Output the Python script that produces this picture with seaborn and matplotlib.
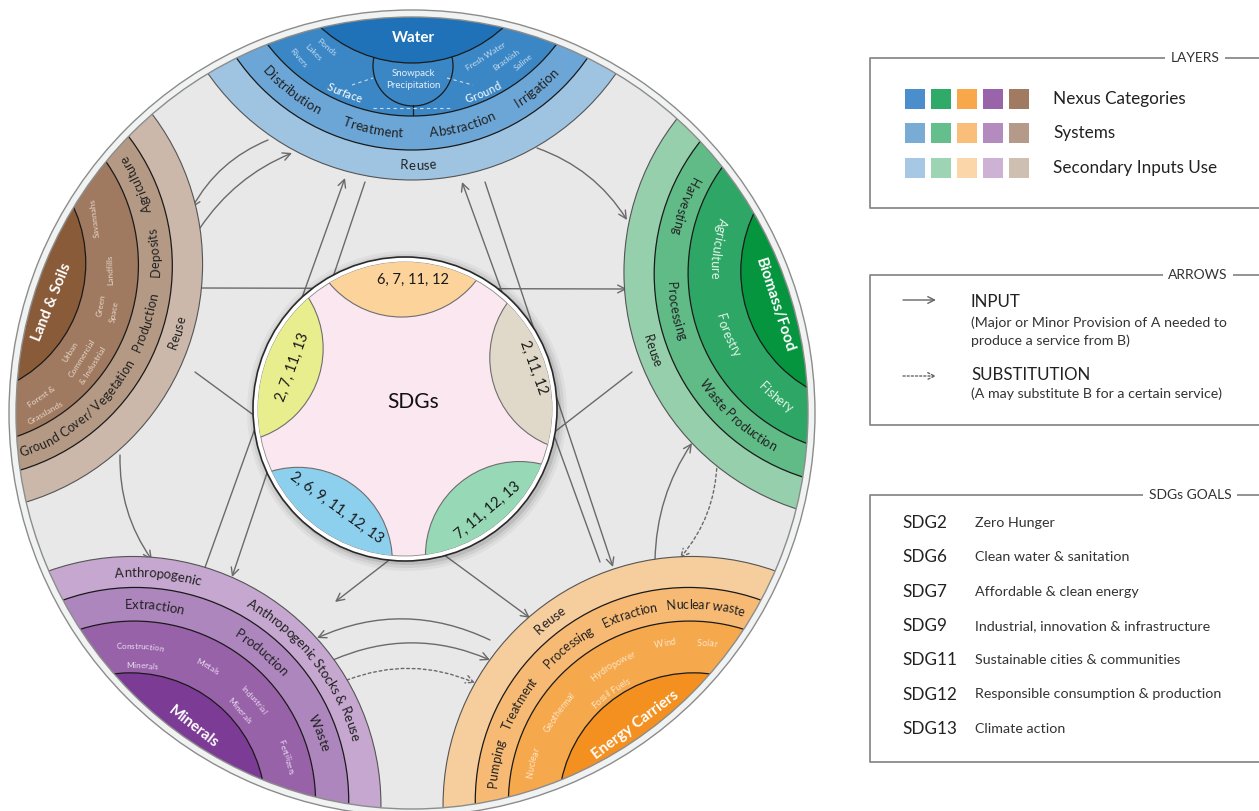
import numpy as np
import matplotlib
matplotlib.use("Agg")
import matplotlib.pyplot as plt
from matplotlib.patches import Circle, Rectangle, Wedge, FancyArrowPatch
from matplotlib.path import Path
from matplotlib.font_manager import FontProperties
import seaborn as sns

sns.set_theme(style="white")
plt.rcParams['font.family'] = ['Lato', 'DejaVu Sans']

# ---- data ----
categories = ["Water", "Biomass/Food", "Energy Carriers", "Minerals", "Land & Soils"]
axis_angle = [90, 17, -54.5, -125.5, 162]
text_outward = [False, False, True, True, False]

core_colors = ["#1f72b8", "#05953f", "#f39020", "#7c3b95", "#8a5b38"]
system_colors = ["#3b87c5", "#2ea766", "#f5a84c", "#9862a9", "#9f7a61"]
process_colors = ["#6ca6d6", "#60bb87", "#f7ba74", "#ae86be", "#b49985"]
reuse_colors = ["#9fc4e2", "#95cfab", "#f6cd9d", "#c5a7d0", "#ccb8aa"]

layer_names = ["Nexus Categories", "Systems", "Secondary Inputs Use"]
legend_colors = [
    ["#4a8fcb", "#2faa69", "#f8a84a", "#9a64ab", "#a07b62"],
    ["#78acd5", "#65bf8d", "#f9be79", "#b48bbf", "#b59a89"],
    ["#a7c8e5", "#9dd4b4", "#fad6a8", "#cdb2d6", "#cfbfb3"],
]

petal_labels = ["6, 7, 11, 12", "2, 11, 12", "7, 11, 12, 13", "2, 6, 9, 11, 12, 13", "2, 7, 11, 13"]
petal_colors = ["#fdd39c", "#e0d9c9", "#97d8b6", "#8dd0ee", "#e8ee8d"]
petal_angle = [91, 16, -52, -125, 161]

sdg_codes = ["SDG2", "SDG6", "SDG7", "SDG9", "SDG11", "SDG12", "SDG13"]
sdg_names = ["Zero Hunger", "Clean water & sanitation", "Affordable & clean energy",
             "Industrial, innovation & infrastructure", "Sustainable cities & communities",
             "Responsible consumption & production", "Climate action"]

# ring boundaries: (inner distance from centre, half-angle at rim), outer -> inner
rings = [(233, 31.0), (263, 26.3), (297, 21.4), (350, 13.3)]

dark = "#222222"
lw_ = "#c2daf0"
ls_ = "#e6d6c8"
# curved labels: (text, sector, band, x, y, size, colour, weight, centred in band)
curved_labels = [
    ("Surface", 0, 2, 344, 93, 8, "white", "normal", False),
    ("Ground", 0, 2, 483, 93, 8, "white", "normal", False),
    ("Distribution", 0, 1, 290, 92, 9.5, dark, "normal", True),
    ("Treatment", 0, 1, 373, 128, 9.5, dark, "normal", True),
    ("Abstraction", 0, 1, 462, 125, 9.5, dark, "normal", True),
    ("Irrigation", 0, 1, 538, 90, 9.5, dark, "normal", True),
    ("Reuse", 0, 0, 418, 167, 9.5, dark, "normal", True),

    ("Agriculture", 4, 1, 130, 187, 9, dark, "normal", True),
    ("Deposits", 4, 1, 152, 253, 9, dark, "normal", True),
    ("Production", 4, 1, 143, 322, 9, dark, "normal", True),
    ("Ground Cover/ Vegetation", 4, 1, 82, 415, 9, dark, "normal", True),
    ("Reuse", 4, 0, 177, 333, 9, dark, "normal", True),

    ("Agriculture", 1, 2, 717, 248, 9, "#e2f3e8", "normal", True),
    ("Forestry", 1, 2, 728, 335, 9, "#e2f3e8", "normal", True),
    ("Fishery", 1, 2, 775, 398, 9, "#e2f3e8", "normal", True),
    ("Harvesting", 1, 1, 678, 203, 9, dark, "normal", True),
    ("Processing", 1, 1, 678, 310, 9, dark, "normal", True),
    ("Waste Production", 1, 1, 740, 413, 9, dark, "normal", True),
    ("Reuse", 1, 0, 653, 350, 9, dark, "normal", True),

    ("Construction", 3, 2, 140, 646, 6, "#eadff0", "normal", False),
    ("Minerals", 3, 2, 142, 665, 6, "#eadff0", "normal", False),
    ("Metals", 3, 2, 208, 666, 6, "#eadff0", "normal", False),
    ("Industrial", 3, 2, 254, 699, 6, "#eadff0", "normal", False),
    ("Minerals", 3, 2, 240, 710, 6, "#eadff0", "normal", False),
    ("Fertilizers", 3, 2, 287, 757, 6, "#eadff0", "normal", False),
    ("Extraction", 3, 1, 153, 617, 9.5, dark, "normal", True),
    ("Production", 3, 1, 255, 660, 9.5, dark, "normal", True),
    ("Waste", 3, 1, 313, 735, 9.5, dark, "normal", True),
    ("Anthropogenic", 3, 0, 157, 585, 9.5, dark, "normal", True),
    ("Anthropogenic Stocks & Reuse", 3, 0, 297, 675, 9.5, dark, "normal", True),

    ("Nuclear", 2, 2, 532, 763, 6.5, "#fde7cb", "normal", False),
    ("Geothermal", 2, 2, 558, 712, 6.5, "#fde7cb", "normal", False),
    ("Fossil Fuels", 2, 2, 610, 692, 6.5, "#fde7cb", "normal", False),
    ("Hydropower", 2, 2, 612, 665, 6.5, "#fde7cb", "normal", False),
    ("Wind", 2, 2, 665, 643, 6.5, "#fde7cb", "normal", False),
    ("Solar", 2, 2, 707, 643, 6.5, "#fde7cb", "normal", False),
    ("Pumping", 2, 1, 502, 765, 9, dark, "normal", True),
    ("Treatment", 2, 1, 525, 707, 9, dark, "normal", True),
    ("Processing", 2, 1, 573, 653, 9, dark, "normal", True),
    ("Extraction", 2, 1, 632, 622, 9, dark, "normal", True),
    ("Nuclear waste", 2, 1, 705, 613, 9, dark, "normal", True),
    ("Reuse", 2, 0, 552, 623, 9.5, dark, "normal", True),
]

# straight labels: (text, x, y, rotation, size, colour, weight)
straight_labels = [
    ("Water", 413, 38, 0, 11, "white", "bold"),
    ("Land & Soils", 52, 302, 68, 11, "white", "bold"),
    ("Biomass/Food", 775, 305, -72, 11, "white", "bold"),
    ("Minerals", 193, 727, -38, 11, "white", "bold"),
    ("Energy Carriers", 635, 725, 37, 11, "white", "bold"),
    ("Ponds", 327, 47, -40, 6, lw_, "normal"),
    ("Lakes", 313, 53, -45, 6, lw_, "normal"),
    ("Rivers", 298, 58, -50, 6, lw_, "normal"),
    ("Snowpack", 413, 73, 0, 7, "#e6f0f9", "normal"),
    ("Precipitation", 413, 85, 0, 7, "#e6f0f9", "normal"),
    ("Fresh Water", 486, 56, 33, 6, lw_, "normal"),
    ("Brackish", 506, 60, 36, 6, lw_, "normal"),
    ("Saline", 523, 62, 40, 6, lw_, "normal"),
    ("Savannahs", 95, 218, 97, 6, ls_, "normal"),
    ("Landfills", 110, 270, 92, 6, ls_, "normal"),
    ("Green", 101, 305, 80, 6, ls_, "normal"),
    ("Space", 114, 312, 80, 6, ls_, "normal"),
    ("Urban", 70, 352, 58, 6, ls_, "normal"),
    ("Commercial", 82, 358, 58, 6, ls_, "normal"),
    ("& Industrial", 93, 366, 58, 6, ls_, "normal"),
    ("Forest &", 42, 397, 35, 6, ls_, "normal"),
    ("Grasslands", 46, 413, 30, 6, ls_, "normal"),
]

# arrows: (x0, y0, x1, y1, bend, dashed)
arrows = [
    (268, 140, 192, 208, 18, False),
    (200, 228, 292, 153, -18, False),
    (537, 148, 627, 220, -20, False),
    (200, 288, 627, 289, 0, False),
    (120, 455, 152, 560, 18, False),
    (203, 573, 345, 178, 0, False),
    (365, 182, 232, 577, 0, False),
    (600, 562, 462, 182, 0, False),
    (485, 182, 613, 567, 0, False),
    (490, 640, 317, 638, 40, False),
    (333, 660, 490, 660, -34, False),
    (347, 680, 475, 683, -26, True),
    (655, 560, 692, 443, -18, False),
    (717, 463, 680, 558, -18, True),
    (195, 372, 530, 618, 0, False),
    (632, 372, 335, 602, 0, False),
]

# ---- figure ----
fig = plt.figure(figsize=(12.59, 8.11), dpi=100)
ax = fig.add_axes([0, 0, 1, 1])
ax.set_xlim(0, 1259)
ax.set_ylim(811, 0)
ax.set_aspect('equal')
ax.axis('off')
renderer = fig.canvas.get_renderer()

CX, CY, R = 412, 413, 396

big = Circle((CX, CY), R, facecolor="#e8e8e8", edgecolor="none", zorder=1)
ax.add_patch(big)


def ring_circle(theta, a, phi, cx=CX, cy=CY, rr=R):
    phi = np.radians(phi)
    d = (rr ** 2 - a ** 2) / (2 * (rr * np.cos(phi) - a))
    t = np.radians(theta)
    return (cx + d * np.cos(t), cy - d * np.sin(t)), d - a


circ = {}
layer_cols = [reuse_colors, process_colors, system_colors, core_colors]
for k, ang in enumerate(axis_angle):
    for j, (a, phi) in enumerate(rings):
        c, r = ring_circle(ang, a, phi)
        circ[(k, j)] = (np.array(c), r)
        ec = "#555555" if j == 0 else "#1a1a1a"
        p = Circle(c, r, facecolor=layer_cols[j][k], edgecolor=ec,
                   lw=0.8 if j == 0 else 0.9, zorder=3 + j * 0.1)
        ax.add_patch(p)
        p.set_clip_path(big)
        if k == 0 and j == 2:
            # snowpack bubble of the water sector
            s = Circle((413, 66), 40, facecolor=system_colors[0], edgecolor="#1a1a1a",
                       lw=0.9, zorder=3.25)
            ax.add_patch(s)
            ax.plot([413, 413], [105, 115], color="#1a1a1a", lw=0.9, zorder=3.25)

for xs, ys in [([352, 373], [85, 78]), ([447, 473], [78, 85]), ([373, 452], [108, 108])]:
    ax.plot(xs, ys, color="#c9dcef", lw=0.8, ls=(0, (3, 3)), zorder=3.3)

# border ring
ax.add_patch(Wedge((CX, CY), R + 7, 0, 360, width=7, facecolor="#f1f3f3",
                   edgecolor="#8c8c8c", lw=1.0, zorder=5))

# arrows
for x0, y0, x1, y1, bend, dashed in arrows:
    dx, dy = x1 - x0, y1 - y0
    L = np.hypot(dx, dy)
    nx, ny = -dy / L, dx / L
    cx, cy = (x0 + x1) / 2 + bend * nx, (y0 + y1) / 2 + bend * ny
    path = Path([(x0, y0), (cx, cy), (x1, y1)], [Path.MOVETO, Path.CURVE3, Path.CURVE3])
    fa = FancyArrowPatch(path=path, arrowstyle="->", mutation_scale=14,
                         color="#6a6a6a", lw=1.0, ls=(0, (2, 2)) if dashed else "-",
                         zorder=2)
    ax.add_patch(fa)

# SDG circle
SX, SY = 405, 409
for rr, al in [(160, 0.05), (157, 0.08), (154, 0.12)]:
    ax.add_patch(Circle((SX + 2, SY + 2), rr, facecolor="#333333", alpha=al,
                        edgecolor="none", zorder=6))
ax.add_patch(Circle((SX, SY), 152, facecolor="white", edgecolor="#2a2a2a", lw=1.2, zorder=6.1))
inner = Circle((SX, SY), 147, facecolor="#fbe7f0", edgecolor="#888888", lw=0.6, zorder=6.2)
ax.add_patch(inner)
for lab, col, ang in zip(petal_labels, petal_colors, petal_angle):
    c, r = ring_circle(ang, 92, 30, SX, SY, 147)
    p = Circle(c, r, facecolor=col, edgecolor="#6e6e6e", lw=0.8, zorder=6.3)
    ax.add_patch(p)
    p.set_clip_path(inner)

petal_text = [(413, 280, 0), (533, 367, -70), (488, 510, 40), (337, 508, -36), (293, 367, 70)]
for lab, (x, y, rot) in zip(petal_labels, petal_text):
    ax.text(x, y, lab, ha="center", va="center", rotation=rot, rotation_mode="anchor",
            fontsize=10.5, color="#1a1a1a", zorder=7)
ax.text(413, 402, "SDGs", ha="center", va="center", fontsize=15, color="#111111", zorder=7)


# ---- curved text ----
def advance(ch, prop):
    w1 = renderer.get_text_width_height_descent("x" + ch + "x", prop, ismath=False)[0]
    w0 = renderer.get_text_width_height_descent("xx", prop, ismath=False)[0]
    return w1 - w0


def curved_text(txt, C, rho, alpha0, fs, color, weight, outward):
    prop = FontProperties(family=['Lato', 'DejaVu Sans'], size=fs, weight=weight)
    advs = [advance(ch, prop) for ch in txt]
    s = -sum(advs) / 2
    fs_px = fs * 100 / 72
    sign = -1 if outward else 1
    for ch, a in zip(txt, advs):
        al = alpha0 + sign * (s + a / 2) / rho
        u = np.array([np.cos(al), np.sin(al)])
        up = u if outward else -u
        d = np.array([up[1], -up[0]])
        px, pY = C[0] + rho * u[0], -C[1] + rho * u[1]
        bx, bY = px - up[0] * 0.36 * fs_px, pY - up[1] * 0.36 * fs_px
        rot = np.degrees(np.arctan2(d[1], d[0]))
        ax.text(bx, -bY, ch, rotation=rot, rotation_mode="anchor", ha="center",
                va="baseline", fontproperties=prop, color=color, zorder=8)
        s += a


for txt, k, j, x, y, fs, col, w, mid in curved_labels:
    p0 = np.array([x, y], dtype=float)
    C, r_in = circ[(k, j + 1)]
    v = p0 - C
    rho = np.hypot(*v)
    u = v / rho
    if mid:
        co, ro = circ[(k, j)]
        w_ = C - co
        b = np.dot(u, w_)
        cc = np.dot(w_, w_) - ro ** 2
        t_out = -b + np.sqrt(b * b - cc)
        rho = (r_in + t_out) / 2
    alpha0 = np.arctan2(-v[1], v[0])
    curved_text(txt, C, rho, alpha0, fs, col, w, text_outward[k])

for txt, x, y, rot, fs, col, w in straight_labels:
    ax.text(x, y, txt, ha="center", va="center", rotation=rot, rotation_mode="anchor",
            fontsize=fs, color=col, fontweight=w, zorder=8)

# ---- legend panels ----
box_col = "#8a8a8a"


def panel(top, bottom, title, tx):
    ax.plot([1259, 870, 870, 1259], [top, top, bottom, bottom], color=box_col, lw=1.3,
            zorder=9, solid_capstyle="butt")
    ax.text(tx, top, title, ha="center", va="center", fontsize=10, color="#333333",
            zorder=10, bbox=dict(facecolor="white", edgecolor="none", pad=4))


panel(58, 208, "LAYERS", 1195)
sw_x = [915, 941, 967, 993, 1019]
sw_y = [99, 133, 168]
for i, row in enumerate(legend_colors):
    for j, col in enumerate(row):
        ax.add_patch(Rectangle((sw_x[j] - 10, sw_y[i] - 10), 20, 20, facecolor=col,
                               edgecolor="none", zorder=10))
    ax.text(1053, sw_y[i], layer_names[i], ha="left", va="center", fontsize=12.3,
            color="#222222", zorder=10)

panel(275, 425, "ARROWS", 1198)
ax.annotate("", xy=(936, 300), xytext=(903, 300), zorder=10,
            arrowprops=dict(arrowstyle="->", color="#666666", lw=1.0, mutation_scale=12,
                            shrinkA=0, shrinkB=0))
ax.annotate("", xy=(936, 376), xytext=(903, 376), zorder=10,
            arrowprops=dict(arrowstyle="->", color="#666666", lw=1.0, mutation_scale=12,
                            shrinkA=0, shrinkB=0, ls=(0, (1.5, 1.5))))
ax.text(971, 302, "INPUT", ha="left", va="center", fontsize=12.2, color="#222222", zorder=10)
ax.text(971, 323, "(Major or Minor Provision of A needed to", ha="left", va="center",
        fontsize=10.2, color="#333333", zorder=10)
ax.text(971, 341, "produce a service from B)", ha="left", va="center",
        fontsize=10.2, color="#333333", zorder=10)
ax.text(971, 375, "SUBSTITUTION", ha="left", va="center", fontsize=12.2, color="#222222", zorder=10)
ax.text(971, 394, "(A may substitute B for a certain service)", ha="left", va="center",
        fontsize=10.2, color="#333333", zorder=10)

panel(495, 762, "SDGs GOALS", 1190)
for i, (code, name) in enumerate(zip(sdg_codes, sdg_names)):
    y = 523 + i * 34.3
    ax.text(902, y, code, ha="left", va="center", fontsize=12.3, color="#222222", zorder=10)
    ax.text(975, y, name, ha="left", va="center", fontsize=10.3, color="#333333", zorder=10)

fig.savefig("out.png", dpi=100, facecolor="white")
